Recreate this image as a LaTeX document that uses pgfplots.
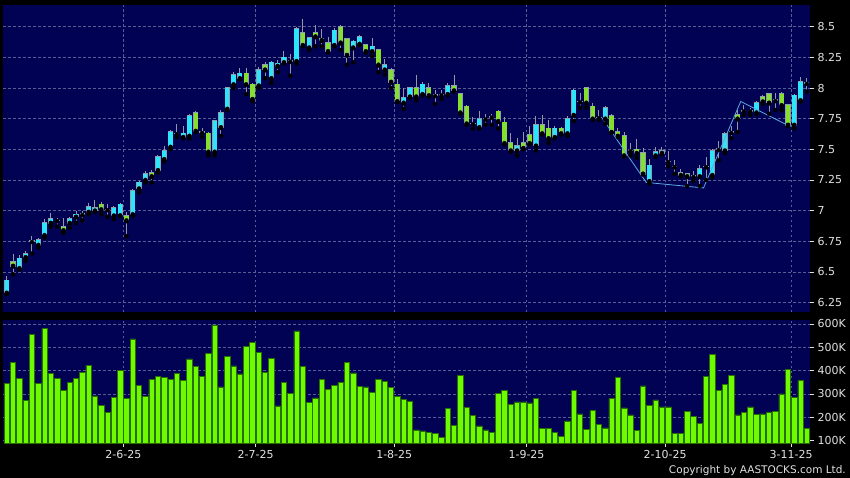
\documentclass[border=0pt]{standalone}
\usepackage{pgfplots}
\pgfplotsset{compat=1.18}
\usepackage{pgfplotstable}
\usepackage{fontspec}
\setmainfont{DejaVu Sans}

\definecolor{bgc}{RGB}{2,2,84}
\definecolor{gridc}{RGB}{85,95,150}
\definecolor{upc}{RGB}{45,228,248}
\definecolor{dnc}{RGB}{132,224,44}
\definecolor{edgec}{RGB}{140,160,175}
\definecolor{wickc}{RGB}{150,150,160}
\definecolor{volc}{RGB}{110,250,0}
\definecolor{voledge}{RGB}{40,110,0}
\definecolor{linec}{RGB}{90,170,230}
\definecolor{labc}{RGB}{225,225,225}

% candles: trading day index, open, high, low, close
\pgfplotstableread{
i O H L C
0 6.33 6.47 6.32 6.43
2 6.53 6.64 6.52 6.61
3 6.62 6.67 6.59 6.65
5 6.72 6.78 6.70 6.76
6 6.80 6.93 6.78 6.90
7 6.90 6.98 6.87 6.93
10 6.90 6.95 6.86 6.93
11 6.95 7.00 6.90 6.97
13 6.99 7.06 6.97 7.03
14 7.00 7.09 6.99 7.02
17 6.96 7.04 6.93 7.02
18 6.96 7.06 6.96 7.05
20 6.97 7.18 6.96 7.16
21 7.18 7.24 7.15 7.23
22 7.25 7.32 7.23 7.30
24 7.33 7.45 7.31 7.44
25 7.42 7.53 7.40 7.49
26 7.52 7.66 7.50 7.64
28 7.60 7.69 7.59 7.63
29 7.61 7.79 7.59 7.77
33 7.48 7.74 7.45 7.73
34 7.68 7.82 7.61 7.80
35 7.83 8.01 7.82 8.00
36 8.03 8.13 8.00 8.11
37 8.08 8.16 8.07 8.12
40 8.02 8.17 8.00 8.15
42 8.08 8.22 8.04 8.21
43 8.18 8.23 8.13 8.20
44 8.21 8.30 8.20 8.25
46 8.22 8.50 8.20 8.48
48 8.33 8.42 8.31 8.41
52 8.35 8.49 8.34 8.47
55 8.33 8.39 8.21 8.38
56 8.36 8.43 8.35 8.42
58 8.30 8.41 8.26 8.34
60 8.15 8.24 8.11 8.19
63 7.88 8.00 7.83 7.92
64 7.93 8.00 7.92 8.00
66 7.95 8.05 7.94 8.03
70 7.95 8.04 7.94 8.02
75 7.68 7.81 7.67 7.75
81 7.49 7.59 7.45 7.53
84 7.53 7.77 7.49 7.70
87 7.60 7.69 7.59 7.67
89 7.63 7.77 7.61 7.75
90 7.78 7.99 7.73 7.98
95 7.75 7.85 7.71 7.84
102 7.24 7.42 7.22 7.37
103 7.45 7.52 7.44 7.48
104 7.47 7.52 7.46 7.49
110 7.28 7.37 7.20 7.34
112 7.29 7.50 7.27 7.49
114 7.49 7.64 7.47 7.625
119 7.80 7.89 7.79 7.88
125 7.70 7.95 7.67 7.94
126 7.90 8.09 7.89 8.05
}\up

\pgfplotstableread{
i O H L C
1 6.58 6.65 6.48 6.55
9 6.87 6.94 6.82 6.84
15 7.05 7.07 6.97 7.01
19 6.96 6.99 6.79 6.92
23 7.31 7.33 7.23 7.28
30 7.80 7.81 7.64 7.65
32 7.63 7.64 7.45 7.48
38 8.12 8.16 7.95 8.03
39 8.03 8.04 7.89 7.91
41 8.19 8.21 8.08 8.15
47 8.45 8.56 8.34 8.35
49 8.45 8.51 8.34 8.42
50 8.40 8.48 8.34 8.39
51 8.37 8.42 8.29 8.30
53 8.50 8.51 8.31 8.37
54 8.40 8.40 8.19 8.27
57 8.35 8.36 8.29 8.30
59 8.31 8.31 8.13 8.19
61 8.15 8.16 8.00 8.05
62 8.03 8.07 7.89 7.89
65 8.00 8.11 7.90 7.93
67 8.00 8.04 7.93 7.94
71 8.02 8.11 7.97 7.98
72 7.95 7.96 7.79 7.80
73 7.85 7.86 7.70 7.71
78 7.81 7.82 7.67 7.73
79 7.72 7.76 7.54 7.55
80 7.55 7.63 7.48 7.49
82 7.55 7.64 7.50 7.51
83 7.62 7.69 7.54 7.55
85 7.70 7.78 7.62 7.63
86 7.67 7.74 7.55 7.59
88 7.67 7.68 7.62 7.63
92 8.00 8.01 7.84 7.88
93 7.85 7.88 7.74 7.75
96 7.77 7.79 7.64 7.64
97 7.64 7.67 7.60 7.61
98 7.61 7.64 7.44 7.45
100 7.50 7.58 7.43 7.47
101 7.47 7.51 7.30 7.30
107 7.31 7.34 7.28 7.29
108 7.30 7.31 7.20 7.28
116 7.78 7.82 7.64 7.75
120 7.93 7.94 7.87 7.89
121 7.95 7.96 7.79 7.88
123 7.95 7.97 7.82 7.86
124 7.86 7.86 7.69 7.70
}\down

\pgfplotstableread{
i O H L C
4 6.75 6.79 6.65 6.75
8 6.92 6.94 6.87 6.92
12 6.97 7.00 6.92 6.97
16 7.01 7.05 6.95 7.01
27 7.63 7.71 7.60 7.63
31 7.64 7.67 7.60 7.64
45 8.22 8.28 8.10 8.22
68 7.94 7.98 7.87 7.94
69 7.945 7.98 7.91 7.945
74 7.71 7.76 7.67 7.71
76 7.75 7.79 7.70 7.75
77 7.765 7.79 7.70 7.765
91 7.89 7.96 7.84 7.89
94 7.76 7.82 7.74 7.76
99 7.49 7.55 7.45 7.49
105 7.40 7.49 7.36 7.40
106 7.36 7.41 7.30 7.36
109 7.28 7.32 7.24 7.28
111 7.36 7.44 7.25 7.36
113 7.50 7.57 7.41 7.50
115 7.64 7.69 7.59 7.64
117 7.815 7.86 7.78 7.815
118 7.815 7.84 7.78 7.815
122 7.90 7.96 7.82 7.90
127 8.04 8.08 7.97 8.04
}\doji

% volume in thousands of shares
\pgfplotstableread{
i v
0 346
1 434
2 366
3 272
4 554
5 346
6 580
7 389
8 366
9 317
10 349
11 366
12 391
13 424
14 292
15 250
16 220
17 284
18 400
19 281
20 536
21 336
22 290
23 363
24 377
25 370
26 361
27 387
28 357
29 450
30 417
31 376
32 474
33 596
34 330
35 461
36 420
37 386
38 504
39 521
40 479
41 391
42 451
43 249
44 349
45 301
46 570
47 419
48 264
49 283
50 364
51 319
52 337
53 350
54 436
55 390
56 331
57 330
58 307
59 361
60 353
61 329
62 289
63 277
64 267
65 146
66 142
67 136
68 132
69 113
70 239
71 167
72 381
73 241
74 207
75 163
76 146
77 136
78 303
79 317
80 257
81 266
82 266
83 262
84 282
85 153
86 153
87 136
88 119
89 185
90 315
91 215
92 150
93 228
94 170
95 155
96 280
97 370
98 240
99 210
100 145
101 335
102 250
103 275
104 245
105 245
106 130
107 132
108 225
109 205
110 175
111 375
112 470
113 315
114 340
115 380
116 210
117 220
118 245
119 213
120 215
121 220
122 225
123 300
124 405
125 285
126 357
127 152
}\vol

\pgfplotsset{
  chartbase/.style={
    scale only axis, width=807pt,
    xmin=-0.6, xmax=127.5,
    axis background/.style={fill=bgc},
    axis line style={draw=none},
    xtick={18.5,39.5,61.5,82.5,104.5,124.5},
    grid=major,
    major grid style={gridc, line width=0.6pt, dash pattern=on 2.5pt off 2.5pt},
    tick align=outside, major tick length=4pt,
    ytick pos=right, yticklabel pos=right,
    ytick style={draw=labc, line width=0.8pt},
    tick label style={font=\fontsize{11}{13}\selectfont, text=labc},
    /pgf/number format/assume math mode=true,
  },
  % one upward segment per candle, from y by the explicit error
  seg/.style 2 args={only marks, mark=none,
    error bars/.cd, y dir=plus, y explicit, error mark=none,
    error bar style={draw=#1, line width=#2}},
}

\begin{document}
\begin{tikzpicture}
\fill[black] (0pt,0pt) rectangle (850pt,-478pt);

\begin{axis}[chartbase, at={(3pt,-5pt)}, anchor=north west, height=307pt,
  ymin=6.173, ymax=8.677,
  ytick={6.25,6.5,6.75,7,7.25,7.5,7.75,8,8.25,8.5},
  xticklabels={}, xtick style={draw=none}]
% wicks
\addplot[seg={wickc}{1pt}] table[x=i, y=L, y error expr={\thisrow{H}-\thisrow{L}}] {\up};
\addplot[seg={wickc}{1pt}] table[x=i, y=L, y error expr={\thisrow{H}-\thisrow{L}}] {\down};
\addplot[seg={wickc}{1pt}] table[x=i, y=L, y error expr={\thisrow{H}-\thisrow{L}}] {\doji};
% bodies: outline first, then fill
\addplot[seg={edgec}{5.2pt}] table[x=i, y expr={min(\thisrow{O},\thisrow{C})-0.006},
  y error expr={abs(\thisrow{C}-\thisrow{O})+0.012}] {\up};
\addplot[seg={upc}{4.2pt}] table[x=i, y expr={min(\thisrow{O},\thisrow{C})},
  y error expr={abs(\thisrow{C}-\thisrow{O})}] {\up};
\addplot[seg={edgec}{5.2pt}] table[x=i, y expr={min(\thisrow{O},\thisrow{C})-0.006},
  y error expr={abs(\thisrow{C}-\thisrow{O})+0.012}] {\down};
\addplot[seg={dnc}{4.2pt}] table[x=i, y expr={min(\thisrow{O},\thisrow{C})},
  y error expr={abs(\thisrow{C}-\thisrow{O})}] {\down};
\addplot[seg={edgec}{5.2pt}] table[x=i, y expr={\thisrow{C}-0.007}, y error expr={0.014}] {\doji};
% pattern line
\addplot[linec, line width=0.8pt, mark=none] coordinates {
  (94.5,7.755) (101.5,7.23) (110.6,7.185) (116.5,7.89) (124.4,7.685)};
\end{axis}

\begin{axis}[chartbase, at={(3pt,-320pt)}, anchor=north west, height=123pt,
  ymin=90, ymax=617,
  ytick={100,200,300,400,500,600},
  yticklabel={\pgfmathprintnumber{\tick}K},
  xtick pos=bottom,
  xticklabels={2-6-25,2-7-25,1-8-25,1-9-25,2-10-25,3-11-25},
  xtick style={draw=labc, line width=0.8pt}]
\addplot[ybar, bar width=5.4pt, fill=volc, draw=voledge, line width=0.6pt]
  table[x=i, y=v] {\vol};
\end{axis}

\node[anchor=south east, inner sep=0pt, text=labc,
  font=\fontsize{10.5}{12}\selectfont] at (846pt,-476pt)
  {Copyright by AASTOCKS.com Ltd.};
\pgfresetboundingbox
\useasboundingbox (0pt,0pt) rectangle (850pt,-478pt);
\end{tikzpicture}
\end{document}
